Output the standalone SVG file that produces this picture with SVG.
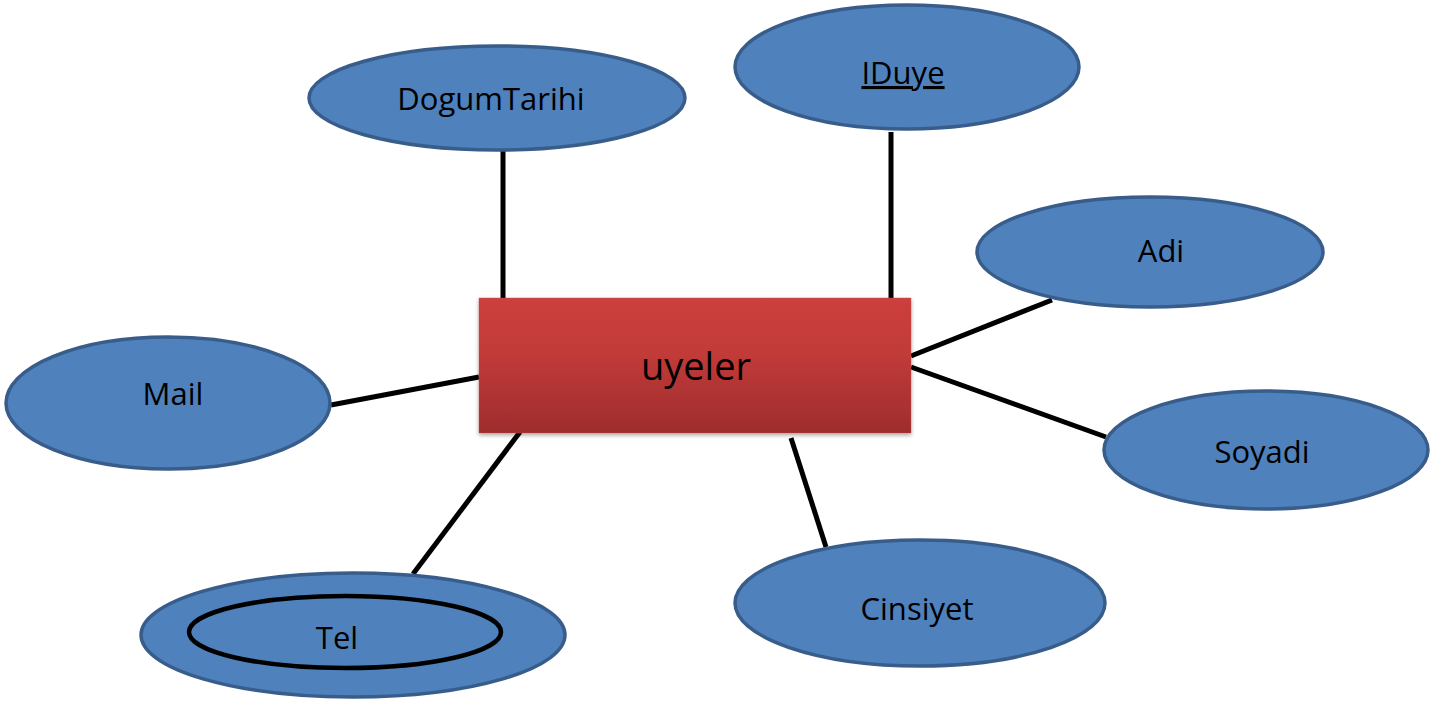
<svg xmlns="http://www.w3.org/2000/svg" width="1448" height="703" viewBox="0 0 1448 703">
<defs>
<linearGradient id="red" x1="0" y1="0" x2="0" y2="1">
<stop offset="0" stop-color="#cc3f3c"/>
<stop offset="0.4" stop-color="#c23b39"/>
<stop offset="1" stop-color="#9f2c2d"/>
</linearGradient>
<filter id="sh" x="-5%" y="-5%" width="110%" height="115%">
<feGaussianBlur in="SourceAlpha" stdDeviation="2"/>
<feOffset dx="0" dy="2"/>
<feComponentTransfer><feFuncA type="linear" slope="0.35"/></feComponentTransfer>
<feMerge><feMergeNode/><feMergeNode in="SourceGraphic"/></feMerge>
</filter>
</defs>
<style>
.attr{fill:#4f81bd;stroke:#385d8a;stroke-width:3.5}
.lbl{font-family:"Open Sans","Liberation Sans",sans-serif;font-size:31px;fill:#000;text-anchor:middle}
.con{stroke:#000;stroke-width:5;fill:none}
</style>
<g id="connectors">
<line class="con" x1="503" y1="150" x2="503" y2="298"/>
<line class="con" x1="891" y1="132" x2="891" y2="298"/>
<line class="con" x1="911" y1="356" x2="1052" y2="300"/>
<line class="con" x1="911" y1="367" x2="1106" y2="437"/>
<line class="con" x1="791" y1="438" x2="826" y2="547"/>
<line class="con" x1="520" y1="432" x2="413" y2="574"/>
<line class="con" x1="331" y1="405" x2="479" y2="377"/>
</g>
<g id="uyeler">
<rect x="479" y="298" width="432" height="135" fill="url(#red)" stroke="#c0504d" stroke-opacity="0.4" filter="url(#sh)"/>
<text class="lbl" x="696" y="380" style="font-size:38px">uyeler</text>
</g>
<g id="DogumTarihi">
<ellipse class="attr" cx="497" cy="98" rx="188" ry="52"/>
<text class="lbl" x="491" y="110">DogumTarihi</text>
</g>
<g id="IDuye">
<ellipse class="attr" cx="907" cy="67" rx="172" ry="62"/>
<text class="lbl" x="903" y="84" text-decoration="underline">IDuye</text>
</g>
<g id="Adi">
<ellipse class="attr" cx="1150" cy="252" rx="173" ry="55"/>
<text class="lbl" x="1161" y="262">Adi</text>
</g>
<g id="Mail">
<ellipse class="attr" cx="168" cy="403" rx="162" ry="66"/>
<text class="lbl" x="173" y="405">Mail</text>
</g>
<g id="Soyadi">
<ellipse class="attr" cx="1266" cy="450" rx="162" ry="59"/>
<text class="lbl" x="1262" y="463">Soyadi</text>
</g>
<g id="Cinsiyet">
<ellipse class="attr" cx="920" cy="603" rx="185" ry="63"/>
<text class="lbl" x="917" y="620">Cinsiyet</text>
</g>
<g id="Tel">
<ellipse class="attr" cx="353" cy="635" rx="212" ry="62"/>
<ellipse cx="345" cy="632" rx="156" ry="36" fill="none" stroke="#000" stroke-width="4.5"/>
<text class="lbl" x="337" y="649">Tel</text>
</g>
</svg>
